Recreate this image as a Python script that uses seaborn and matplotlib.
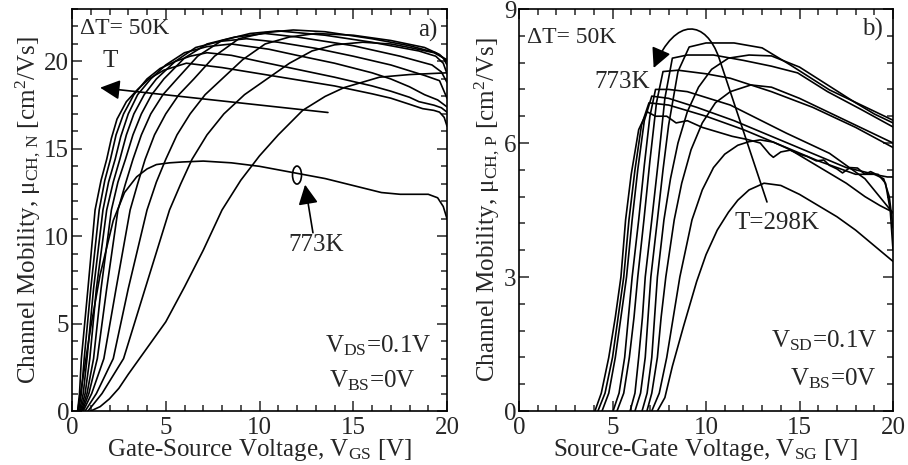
import numpy as np
import pandas as pd
import matplotlib
matplotlib.use("Agg")
import matplotlib.pyplot as plt
from matplotlib.patches import Ellipse, FancyArrowPatch
from matplotlib.path import Path
from matplotlib.ticker import MultipleLocator
import seaborn as sns

# ── Panel a: n-channel mobility vs V_GS (one pair of lists per temperature) ──
A298_V  = [1.0, 1.5, 2.0, 2.5, 3.0, 4.0, 5.0, 6.0, 7.0, 8.0, 9.0, 10.0, 11.0, 12.3, 13.5, 14.5, 16.4, 18.0, 20.0]
A298_MU = [0, 0.25, 0.7, 1.3, 2.1, 3.6, 5.1, 7.1, 9.2, 11.5, 13.2, 14.6, 15.8, 17.2, 18.0, 18.5, 19.1, 19.25, 19.35]
A348_V  = [0.85, 1.6, 2.75, 3.9, 5.2, 5.8, 6.4, 7.2, 8.1, 9.2, 10.4, 11.6, 12.8, 14.0, 15.5, 17.0, 18.0, 19.3, 20.0]
A348_MU = [0, 1.0, 3.0, 7.0, 11.5, 13.0, 14.4, 15.8, 17.0, 18.1, 19.0, 19.9, 20.6, 20.95, 21.1, 21.0, 20.8, 20.5, 20.1]
A398_V  = [0.7, 1.3, 2.2, 3.0, 4.0, 4.5, 5.0, 5.6, 6.3, 7.1, 8.0, 9.1, 10.3, 11.6, 13.0, 15.0, 17.0, 18.8, 19.6, 20.0]
A398_MU = [0, 1.0, 3.0, 7.0, 11.5, 13.1, 14.4, 15.8, 17.0, 18.1, 19.0, 20.1, 21.0, 21.4, 21.6, 21.5, 21.2, 20.8, 20.4, 20.0]
A448_V  = [0.6, 1.05, 1.7, 2.35, 3.1, 3.5, 3.9, 4.4, 5.0, 5.7, 6.5, 7.6, 8.9, 10.3, 11.8, 13.5, 16.0, 18.0, 19.4, 19.8, 20.0]
A448_MU = [0, 1.0, 3.0, 7.0, 11.5, 13.0, 14.4, 15.8, 17.0, 18.1, 19.0, 20.3, 21.3, 21.65, 21.8, 21.7, 21.3, 20.9, 20.5, 20.2, 19.8]
A498_V  = [0.55, 0.9, 1.35, 1.85, 2.45, 2.85, 3.25, 3.7, 4.2, 4.85, 5.6, 6.7, 8.0, 9.5, 11.0, 13.5, 16.0, 18.5, 19.4, 19.8, 20.0]
A498_MU = [0, 1.0, 3.0, 7.0, 11.5, 13.0, 14.4, 15.8, 17.0, 18.1, 19.0, 20.3, 21.2, 21.6, 21.75, 21.5, 21.1, 20.6, 20.3, 19.9, 19.3]
A548_V  = [0.5, 0.8, 1.15, 1.55, 2.1, 2.45, 2.85, 3.25, 3.7, 4.25, 4.9, 6.0, 7.2, 8.7, 10.3, 12.0, 15.0, 17.5, 19.2, 19.7, 20.0]
A548_MU = [0, 1.0, 3.0, 7.0, 11.5, 13.1, 14.4, 15.8, 17.0, 18.1, 19.0, 20.2, 21.0, 21.4, 21.6, 21.4, 20.9, 20.3, 19.8, 19.4, 18.8]
A598_V  = [0.45, 0.7, 0.95, 1.3, 1.85, 2.2, 2.55, 2.9, 3.3, 3.85, 4.5, 5.5, 6.6, 7.9, 9.3, 11.0, 13.0, 15.0, 17.0, 18.8, 19.6, 20.0]
A598_MU = [0, 1.0, 3.0, 7.0, 11.5, 13.1, 14.4, 15.8, 17.0, 18.1, 19.0, 20.0, 20.8, 21.15, 21.3, 21.1, 20.75, 20.3, 19.8, 19.2, 18.9, 17.9]
A648_V  = [0.4, 0.6, 0.8, 1.15, 1.65, 1.95, 2.3, 2.6, 3.0, 3.5, 4.2, 5.0, 6.0, 7.2, 8.5, 10.5, 12.0, 14.0, 16.0, 17.0, 18.0, 18.8, 19.5, 20.0]
A648_MU = [0, 1.0, 3.0, 7.0, 11.5, 13.1, 14.4, 15.7, 17.0, 18.1, 19.0, 19.8, 20.5, 20.85, 21.0, 20.7, 20.35, 19.9, 19.35, 19.0, 18.55, 18.1, 17.8, 17.4]
A698_V  = [0.35, 0.5, 0.65, 1.0, 1.45, 1.75, 2.05, 2.35, 2.75, 3.3, 4.0, 4.7, 5.5, 6.3, 7.2, 8.5, 10.0, 12.0, 14.0, 16.0, 17.0, 18.0, 18.5, 19.3, 19.7, 20.0]
A698_MU = [0, 1.0, 3.0, 7.0, 11.5, 13.2, 14.4, 15.8, 17.0, 18.1, 19.0, 19.6, 20.0, 20.3, 20.5, 20.35, 20.0, 19.55, 19.1, 18.6, 18.3, 17.95, 17.7, 17.5, 17.35, 17.1]
A748_V  = [0.3, 0.4, 0.5, 0.85, 1.23, 1.55, 1.85, 2.1, 2.4, 2.9, 3.5, 4.1, 4.9, 6.1, 8.0, 10.0, 12.0, 14.0, 16.0, 17.0, 18.0, 18.7, 19.3, 19.6, 19.85, 20.0]
A748_MU = [0, 1.0, 3.0, 7.0, 11.5, 13.2, 14.4, 15.6, 16.7, 17.7, 18.4, 19.0, 19.5, 19.9, 19.65, 19.3, 18.95, 18.6, 18.15, 17.9, 17.55, 17.3, 17.2, 17.1, 16.8, 16.3]
A773_V  = [0.3, 0.6, 1.0, 1.5, 2.2, 2.8, 3.45, 4.0, 4.5, 5.2, 5.9, 7.0, 8.5, 10.0, 12.0, 13.5, 15.0, 16.5, 17.5, 19.0, 19.5, 19.8, 20.0]
A773_MU = [0, 2.0, 4.8, 7.8, 10.9, 12.5, 13.4, 13.85, 14.1, 14.2, 14.25, 14.3, 14.2, 14.0, 13.6, 13.3, 12.9, 12.5, 12.4, 12.4, 12.2, 11.7, 11.0]

# ── Panel b: p-channel mobility vs V_SG ──────────────────────────────────────
B298_V  = [7.4, 7.8, 8.2, 8.8, 9.5, 10.0, 10.6, 11.2, 11.7, 12.3, 13.1, 14.0, 15.0, 16.0, 17.0, 18.0, 19.0, 20.0]
B298_MU = [0, 0.3, 1.0, 1.9, 2.9, 3.5, 4.05, 4.45, 4.72, 4.95, 5.1, 5.05, 4.85, 4.6, 4.35, 4.05, 3.7, 3.35]
B348_V  = [7.1, 7.5, 7.9, 8.25, 8.6, 9.25, 9.8, 10.4, 11.0, 11.7, 12.3, 12.9, 13.6, 14.5, 15.5, 16.5, 17.5, 18.5, 19.3, 20.0]
B348_MU = [0, 0.4, 1.2, 2.1, 3.0, 4.28, 4.95, 5.45, 5.75, 5.95, 6.03, 6.07, 6.02, 5.85, 5.6, 5.35, 5.1, 4.8, 4.6, 4.45]
B398_V  = [6.84, 7.1, 7.4, 7.6, 7.85, 8.3, 8.7, 9.2, 9.8, 10.5, 11.3, 12.4, 13.5, 15.0, 16.5, 18.0, 19.0, 20.0]
B398_MU = [0, 0.4, 1.2, 2.1, 3.0, 4.28, 5.1, 5.85, 6.45, 6.9, 7.15, 7.3, 7.25, 7.0, 6.7, 6.4, 6.2, 6.0]
B448_V  = [6.58, 6.85, 7.1, 7.25, 7.4, 7.75, 8.1, 8.5, 9.0, 9.6, 10.3, 11.2, 12.3, 13.5, 15.0, 16.5, 18.0, 19.0, 20.0]
B448_MU = [0, 0.4, 1.2, 2.1, 3.0, 4.28, 5.2, 6.0, 6.7, 7.25, 7.65, 7.9, 7.97, 7.95, 7.7, 7.3, 6.9, 6.65, 6.45]
B498_V  = [6.2, 6.5, 6.75, 6.9, 7.05, 7.4, 7.7, 8.0, 8.5, 9.1, 10.0, 11.5, 13.0, 14.5, 16.6, 18.3, 20.0]
B498_MU = [0, 0.4, 1.2, 2.1, 3.0, 4.28, 5.4, 6.4, 7.6, 8.15, 8.24, 8.24, 8.13, 7.75, 7.19, 6.85, 6.51]
B548_V  = [5.94, 6.2, 6.4, 6.6, 6.75, 7.1, 7.45, 7.8, 8.2, 9.0, 10.4, 12.0, 13.5, 14.9, 16.5, 18.3, 20.0]
B548_MU = [0, 0.4, 1.2, 2.1, 3.0, 4.28, 5.6, 7.0, 7.9, 7.97, 7.97, 7.85, 7.72, 7.57, 7.15, 6.75, 6.36]
B598_V  = [5.24, 5.6, 5.9, 6.15, 6.35, 6.68, 7.0, 7.35, 7.7, 8.5, 10.0, 11.3, 13.5, 15.7, 18.0, 20.0]
B598_MU = [0, 0.4, 1.2, 2.1, 3.0, 4.28, 5.6, 6.9, 7.6, 7.63, 7.55, 7.45, 7.15, 6.8, 6.35, 5.9]
B648_V  = [5.03, 5.35, 5.65, 5.85, 6.05, 6.4, 6.7, 7.0, 7.3, 8.0, 9.0, 11.3, 14.3, 16.6, 18.5, 20.0]
B648_MU = [0, 0.4, 1.2, 2.1, 3.0, 4.28, 5.5, 6.6, 7.2, 7.2, 7.15, 6.85, 6.22, 5.77, 5.2, 4.43]
B698_V  = [4.44, 4.8, 5.15, 5.45, 5.75, 6.05, 6.35, 6.7, 7.1, 8.0, 9.5, 11.5, 13.5, 15.5, 17.5, 19.0, 19.5, 19.8, 20.0]
B698_MU = [0, 0.4, 1.2, 2.1, 3.0, 4.28, 5.4, 6.5, 7.05, 7.0, 6.8, 6.5, 6.15, 5.8, 5.45, 5.3, 5.2, 4.8, 4.1]
B748_V  = [4.22, 4.6, 5.0, 5.3, 5.6, 5.88, 6.2, 6.55, 6.95, 8.0, 10.0, 12.0, 14.0, 16.0, 18.0, 19.2, 19.6, 19.85, 20.0]
B748_MU = [0, 0.4, 1.2, 2.1, 3.0, 4.28, 5.4, 6.4, 6.9, 6.85, 6.6, 6.3, 5.95, 5.6, 5.3, 5.3, 5.1, 4.5, 3.6]
B773_V  = [4.06, 4.4, 4.8, 5.15, 5.45, 5.7, 6.0, 6.4, 6.85, 7.3, 7.9, 8.4, 9.0, 9.8, 10.6, 11.4, 12.2, 12.9,
           13.2, 13.4, 13.6, 14.0, 14.5, 15.0, 15.4, 15.9, 16.3, 16.6, 17.0, 17.3, 17.7, 18.1, 18.5, 18.8, 19.2, 19.7, 20.0]
B773_MU = [0, 0.4, 1.2, 2.1, 3.0, 4.28, 5.3, 6.3, 6.7, 6.6, 6.6, 6.45, 6.5, 6.35, 6.25, 6.15, 6.08, 6.0,
           5.85, 5.75, 5.68, 5.8, 5.84, 5.75, 5.7, 5.6, 5.62, 5.5, 5.42, 5.33, 5.45, 5.44, 5.3, 5.36, 5.28, 5.24, 5.24]

A_CURVES = {298: (A298_V, A298_MU), 348: (A348_V, A348_MU), 398: (A398_V, A398_MU),
            448: (A448_V, A448_MU), 498: (A498_V, A498_MU), 548: (A548_V, A548_MU),
            598: (A598_V, A598_MU), 648: (A648_V, A648_MU), 698: (A698_V, A698_MU),
            748: (A748_V, A748_MU), 773: (A773_V, A773_MU)}
B_CURVES = {298: (B298_V, B298_MU), 348: (B348_V, B348_MU), 398: (B398_V, B398_MU),
            448: (B448_V, B448_MU), 498: (B498_V, B498_MU), 548: (B548_V, B548_MU),
            598: (B598_V, B598_MU), 648: (B648_V, B648_MU), 698: (B698_V, B698_MU),
            748: (B748_V, B748_MU), 773: (B773_V, B773_MU)}


def to_long(curves):
    frames = [pd.DataFrame({"V": v, "mu": m, "T": t}) for t, (v, m) in curves.items()]
    return pd.concat(frames, ignore_index=True)


df_a = to_long(A_CURVES)
df_b = to_long(B_CURVES)

# ── Style ────────────────────────────────────────────────────────────────────
sns.set_style("ticks")
plt.rcParams["font.family"] = ["Liberation Serif", "DejaVu Serif"]
plt.rcParams["mathtext.fontset"] = "custom"
plt.rcParams["mathtext.rm"] = "Liberation Serif"
plt.rcParams["mathtext.it"] = "Liberation Serif:italic"
plt.rcParams["axes.linewidth"] = 1.2

FS = 18      # labels, ticks, annotations
FS_DT = 17   # "ΔT= 50K"
LW = 1.2
ARROW = "-|>,head_length=0.6,head_width=0.3"

fig = plt.figure(figsize=(9.08, 4.65), dpi=100)
ax_a = fig.add_axes([0.0793, 0.1161, 0.4130, 0.8645])
ax_b = fig.add_axes([0.5716, 0.1161, 0.4119, 0.8645])

for ax, df in ((ax_a, df_a), (ax_b, df_b)):
    sns.lineplot(data=df, x="V", y="mu", units="T", estimator=None, sort=False,
                 color="black", lw=LW, ax=ax, legend=False)
    ax.set_xlim(0, 20)
    ax.xaxis.set_major_locator(MultipleLocator(5))
    ax.xaxis.set_minor_locator(MultipleLocator(1))
    ax.tick_params(which="both", direction="in", top=True, right=True,
                   labelsize=FS, width=1.1, pad=2)
    ax.tick_params(axis="x", pad=4)
    ax.tick_params(which="major", length=7)
    ax.tick_params(which="minor", length=4)
    for s in ax.spines.values():
        s.set_linewidth(1.2)
        s.set_color("black")

# panel a
ax_a.set_ylim(0, 23)
ax_a.yaxis.set_major_locator(MultipleLocator(5))
ax_a.yaxis.set_minor_locator(MultipleLocator(1))
ax_a.set_xlabel(r"Gate-Source Voltage, V$_{\mathrm{GS}}$ [V]", fontsize=FS, labelpad=-1)
ax_a.set_ylabel(r"Channel Mobility, μ$_{\mathrm{CH,\,N}}$ [cm$^{2}$/Vs]", fontsize=FS, labelpad=1)
ax_a.text(0.43, 21.9, "ΔT= 50K", fontsize=FS_DT, ha="left", va="center")
ax_a.text(19.47, 21.8, "a)", fontsize=FS, ha="right", va="center")
ax_a.text(2.03, 20.0, "T", fontsize=FS, ha="center", va="center")
ax_a.add_patch(FancyArrowPatch((13.65, 17.08), (1.5, 18.5), arrowstyle=ARROW,
                               mutation_scale=20, lw=LW, color="black",
                               shrinkA=0, shrinkB=0))
ax_a.add_patch(Ellipse((12.0, 13.5), width=0.48, height=1.03, fill=False, lw=LW, color="black"))
ax_a.add_patch(FancyArrowPatch((12.85, 10.2), (12.43, 12.95), arrowstyle=ARROW,
                               mutation_scale=20, lw=LW, color="black",
                               shrinkA=0, shrinkB=0))
ax_a.text(13.0, 9.5, "773K", fontsize=FS, ha="center", va="center")
ax_a.text(16.35, 3.38, r"V$_{\mathrm{DS}}$=0.1V", fontsize=FS, ha="center", va="baseline")
ax_a.text(16.0, 1.375, r"V$_{\mathrm{BS}}$=0V", fontsize=FS, ha="center", va="baseline")

# panel b
ax_b.set_ylim(0, 9)
ax_b.yaxis.set_major_locator(MultipleLocator(3))
ax_b.yaxis.set_minor_locator(MultipleLocator(0.6))
ax_b.set_xlabel(r"Source-Gate Voltage, V$_{\mathrm{SG}}$ [V]", fontsize=FS, labelpad=-1)
ax_b.set_ylabel(r"Channel Mobility, μ$_{\mathrm{CH,\,P}}$ [cm$^{2}$/Vs]", fontsize=FS, labelpad=1)
ax_b.text(0.43, 8.37, "ΔT= 50K", fontsize=FS_DT, ha="left", va="center")
ax_b.text(19.47, 8.55, "b)", fontsize=FS, ha="right", va="center")
ax_b.text(7.0, 7.37, "773K", fontsize=FS, ha="right", va="center")
ax_b.text(13.8, 4.22, "T=298K", fontsize=FS, ha="center", va="center")
arc = Path([(13.26, 4.68), (10.7, 7.9), (10.0, 8.75), (8.4, 8.85), (7.2, 7.68)],
           [Path.MOVETO, Path.LINETO, Path.CURVE4, Path.CURVE4, Path.CURVE4])
ax_b.add_patch(FancyArrowPatch(path=arc, arrowstyle=ARROW, mutation_scale=20,
                               lw=LW, color="black"))
ax_b.text(19.14, 1.43, r"V$_{\mathrm{SD}}$=0.1V", fontsize=FS, ha="right", va="baseline")
ax_b.text(19.14, 0.58, r"V$_{\mathrm{BS}}$=0V", fontsize=FS, ha="right", va="baseline")

fig.savefig("out.png", dpi=100)
